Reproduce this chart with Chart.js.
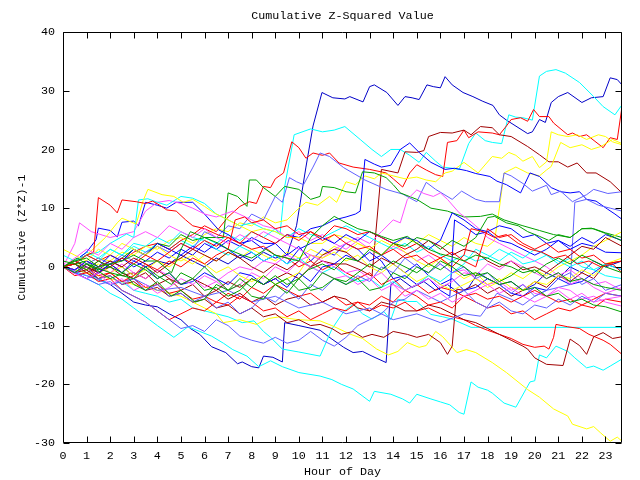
<!DOCTYPE html>
<html>
<head>
<meta charset="utf-8">
<script src="https://cdn.jsdelivr.net/npm/chart.js@4/dist/chart.umd.min.js"></script>
<style>
  html, body { margin: 0; padding: 0; background: #fff; }
  canvas { display: block; }
</style>
</head>
<body>
<canvas id="chart" width="640" height="480"></canvas>
<script>
// ===== traces: [hour, cumulative value] =====

const NAVY_TOP = [[0,0],[0.5,-1],[1,0.5],[1.5,-0.5],[2,1],[2.5,0],[3,-1.5],[3.5,0],[4,1],[4.5,0.5],[5,2],[5.5,1],[6,0],[6.5,1.5],[7,0.5],[7.5,2],[8,1],[8.5,2.5],[9,1.5],[9.5,2],[9.9,7],[10.3,17],[10.6,24],[10.98,29.7],[11.44,28.8],[11.95,28.6],[12.16,29],[12.72,28.1],[13,30.7],[13.2,31],[13.73,29.7],[14.2,27.5],[14.5,29],[14.8,28.8],[15.1,28.5],[15.43,31],[15.7,30.7],[16,30.5],[16.2,32.4],[16.5,31],[16.96,29.7],[17.38,29],[17.8,28.2],[18.23,27.5],[18.5,25.9],[18.8,25],[19.7,22.7],[19.9,23],[20.2,25.1],[20.45,24.6],[20.7,28],[21,29],[21.4,29.7],[22,28],[22.4,28.8],[22.9,29],[23.2,32.2],[23.5,31.9],[23.7,31]];

const CYAN_TOP = [[0,0],[0.5,1],[1,2.5],[1.5,1.5],[2,3],[2.5,2],[3,3.5],[3.5,2.5],[4,4],[4.5,3],[5,4.5],[5.5,3.5],[6,5],[6.5,4],[7,5.5],[7.5,4.5],[8,6],[8.5,5],[9,6.5],[9.2,5.5],[9.4,13.7],[9.8,22.5],[10.5,23.5],[11,23],[11.5,23.3],[11.95,23.9],[12.6,21.7],[13.1,20],[13.5,18.8],[13.9,20],[14.3,20],[14.7,19],[15.1,17.8],[15.4,19.5],[15.8,18],[16.1,17],[16.5,16.8],[16.8,16.6],[17.2,21],[17.5,22.8],[17.9,21.5],[18.2,21.2],[18.6,21],[18.9,25.9],[19.2,25.5],[19.5,25.4],[19.9,25],[20.2,32.5],[20.5,33.3],[20.9,33.6],[21.3,33],[21.9,31.4],[22.5,29],[22.9,27.3],[23.4,25.9],[23.7,27.6]];

const RED_JUMP = [[0,0],[0.5,0.5],[1,-0.5],[1.5,1],[2,2],[2.5,1],[3,2.5],[3.5,3.5],[4,4],[4.5,3],[5,4.5],[5.5,5.5],[6,7],[6.5,6],[7,8.5],[7.5,10.3],[7.9,11.1],[8.2,10.8],[8.5,13.7],[8.8,13.5],[9,15],[9.35,16],[9.7,21.3],[10,20.3],[10.3,18.5],[10.6,19.4],[11,19],[11.3,19.4],[11.7,17.7],[12.3,17],[13,16.6],[13.7,16],[14,15],[14.4,13.6],[14.7,16],[15,17.4],[15.4,16.5],[15.8,15.7],[16.1,15.4],[16.3,21.2],[16.7,21.5],[17,23.3],[17.2,22],[17.6,23],[18.2,22.8],[18.5,22.5],[18.8,24],[19,25.1],[19.4,25.4],[19.7,24.8],[19.95,26.8],[20.2,25.6],[20.6,25.6],[20.8,24.5],[21.4,22.5],[21.6,22.8],[21.9,22.2],[22.2,22.5],[22.9,20.3],[23.2,22],[23.5,21.7],[23.7,27.3]];

const MAROON_RISE = [[0,0],[0.5,-0.5],[1,0.5],[1.5,-1],[2,0],[2.5,-1.5],[3,-1],[3.5,-2],[4,-0.5],[4.5,-2],[5,-3],[5.5,-2],[6,-3],[6.5,-4],[7,-2.5],[7.5,-3.5],[8,-2],[8.5,-3],[9,-2],[9.5,-1],[10,-2],[10.5,0],[11,1],[11.5,0.5],[12,0.5],[12.6,-0.5],[13.1,-1.6],[13.5,16.6],[14.2,16],[14.5,19.6],[15,19.5],[15.3,19.8],[15.5,22.2],[16,22.9],[16.5,22.8],[17,23.3],[17.3,22.5],[17.7,23.9],[18.2,23.7],[18.5,22.5],[19,22.2],[19.7,20.5],[20.2,19.1],[20.6,17.9],[21,17.9],[21.4,17],[21.8,17.7],[22.2,16],[22.6,16],[23.2,14.5],[23.7,12.6]];

const YELLOW_LATE = [[0,0],[0.5,-0.5],[1,0.5],[1.5,1.5],[2,1],[2.5,2.5],[3,2],[3.5,3.5],[4,3],[4.5,4.5],[5,5],[5.5,4],[6,5.5],[6.5,6.5],[7,6],[7.5,7.5],[8,7],[8.5,8.5],[9,7.5],[9.5,8],[10,10],[10.3,11],[10.8,10.5],[11.3,12],[11.6,11],[12,14.5],[12.4,14],[12.8,15.5],[13.2,15],[13.5,16],[14,15.5],[14.5,15],[15,15.3],[15.4,14.8],[15.8,14.5],[16.2,16],[16.5,16.3],[17,17.8],[17.6,16],[18.2,18.8],[18.6,18.5],[18.9,19.5],[19.2,19],[19.5,18],[19.9,18.8],[20.2,16.9],[20.5,17.9],[20.7,23],[21,22.5],[21.4,22.2],[21.8,22.5],[22.2,21.7],[22.7,22.5],[23,22.2],[23.3,21.3],[23.7,20.8]];

const YELLOW_LATE2 = [[0,0],[0.5,1],[1,-0.5],[1.5,0.5],[2,-1],[2.5,0],[3,-1.5],[3.5,-0.5],[4,1],[4.5,0],[5,1.5],[5.5,0.5],[6,2],[6.5,1],[7,2.5],[7.5,1.5],[8,3],[8.5,2],[9,1],[9.5,2.5],[10,1.5],[10.5,3],[11,2],[11.5,3.5],[12,2.5],[12.5,4],[13,3],[13.5,4.5],[14,3.5],[14.5,5],[15,4],[15.5,5.5],[16,4.5],[16.5,3.5],[17,5],[17.5,4],[18,3.5],[18.3,4.5],[18.5,10],[18.7,16],[19.2,17],[19.7,16],[20.2,15.5],[20.5,16.5],[20.7,17.1],[21.1,21.2],[21.5,20.3],[22,20.8],[22.4,20],[22.8,20.5],[23.3,21.7],[23.7,21]];

const BLUE_MID = [[0,0],[0.5,1],[1,0],[1.5,-1],[2,0.5],[2.5,1.5],[3,0],[3.5,1],[4,2.5],[4.5,1.5],[5,3],[5.5,2],[6,4],[6.5,3],[7,4.5],[7.5,3.5],[8,5],[8.5,4],[9,4],[9.5,5.5],[10,5],[10.5,6.5],[11,7],[11.5,8],[12,8.5],[12.4,9],[12.6,9.5],[12.8,18.3],[13.2,17.5],[13.5,17],[13.9,17.3],[14.3,20],[14.7,21.1],[15.1,19.5],[15.6,17.8],[16.2,16.6],[16.6,16.8],[17.1,16.4],[17.5,15.9],[18.1,15.4],[18.4,14.6],[18.8,14],[19.4,12.6],[19.8,16],[20.2,15.4],[20.7,13.5],[21.1,12.8],[21.5,12.6],[21.9,12.8],[22.2,11.5],[22.6,11.2],[23.1,9.8],[23.4,9],[23.7,8.1]];

const SLATE_MID = [[0,0],[0.5,-0.5],[1,0.5],[1.5,1.5],[2,0.5],[2.5,2],[3,1],[3.5,2.5],[4,3.5],[4.5,2.5],[5,4],[5.5,3],[6,6],[6.5,5],[7,7],[7.5,6.5],[8,9],[8.5,8],[9,12],[9.3,11],[9.6,15.2],[9.9,14.5],[10.2,14],[10.6,17],[10.9,19.4],[11.3,18.8],[11.9,16.9],[12.8,14.8],[13.7,13.2],[14.4,12.4],[15,11.1],[15.4,14.4],[15.8,13.2],[16.5,11.5],[16.9,12.9],[17.5,11.5],[17.9,11.1],[18.5,11.1],[18.7,16],[19,15.5],[19.5,14.2],[19.9,12.9],[20.5,13.9],[20.7,12.3],[21.1,12.9],[21.6,11.1],[22.2,12.3],[22.5,13.2],[23.1,12.5],[23.7,12.8]];

const CYAN_FLAT = [[0,0],[0.5,-1],[1,-1.5],[1.5,-2],[2,-3],[2.5,-2.5],[3,-4],[3.5,-4.5],[4,-5],[4.5,-6],[5,-5.5],[5.5,-7],[6,-7.5],[6.5,-8],[7,-8.5],[7.6,-9.5],[8.1,-9.2],[8.5,-11],[8.8,-12],[9.3,-14],[10,-14.5],[10.9,-15.2],[11.4,-10.6],[11.9,-7.6],[12.3,-6.4],[12.7,-8],[13.1,-8.9],[13.6,-7.6],[13.9,-9],[14.2,-5.5],[14.6,-5.9],[15,-5.9],[15.6,-8.1],[16.1,-8.5],[16.5,-8.9],[17.3,-10.3],[23.7,-10.3]];

const CYAN_LOW = [[0,0],[0.5,-1],[1,-2],[1.5,-3],[2,-4.5],[2.5,-5.5],[3,-7],[3.5,-8.5],[4,-10],[4.7,-12],[5.3,-10.2],[5.8,-11],[6.3,-11.8],[6.8,-13],[7.2,-14.1],[7.8,-15.2],[8.3,-17],[8.8,-16],[9.3,-17],[10,-18],[10.9,-18.6],[11.4,-19.2],[11.8,-20],[12.3,-20.8],[13,-22.9],[13.2,-21.2],[13.9,-21.7],[14.4,-22.5],[14.7,-23.2],[15,-21.7],[15.6,-22.5],[16,-23],[16.4,-23.5],[16.8,-24.8],[17,-25.1],[17.3,-19.6],[17.6,-20.5],[18,-21],[18.2,-21.5],[18.7,-23.2],[19.2,-23.9],[19.8,-19.6],[20,-19.4],[20.2,-15],[20.5,-15.5],[20.9,-13.5],[21.4,-14.4],[21.7,-15.5],[22.2,-17.2],[22.5,-16.9],[22.9,-17.6],[23.2,-16.9],[23.7,-15.7]];

const YELLOW_LOW = [[0,0],[0.5,-0.5],[1,-1],[1.5,-1.5],[2,-2],[2.5,-2.5],[3,-3],[3.5,-3.5],[4,-4],[4.5,-4.5],[5,-5],[5.5,-6],[6,-7],[6.5,-8],[6.8,-9.5],[7.5,-9],[8.2,-9.8],[8.7,-8.8],[9.2,-8.5],[9.6,-8.8],[10,-9],[10.9,-9.2],[11.4,-10],[12.2,-11.5],[12.7,-12.2],[13.3,-14],[13.8,-15],[14.2,-14.4],[14.6,-12.9],[15.1,-13.7],[15.4,-13.4],[15.8,-11],[16.1,-11.9],[16.7,-14.6],[17.1,-14.1],[17.5,-14.6],[18.2,-16.3],[18.8,-18],[19.7,-20.9],[20.2,-22.2],[20.8,-24.2],[21.4,-25.4],[21.6,-26.8],[22.2,-27.6],[22.5,-27.2],[22.8,-28.3],[23.2,-29.7],[23.5,-29],[23.7,-29.7]];

const NAVY_LOW = [[0,0],[0.5,-0.5],[1,-1],[1.5,-2],[2,-3],[2.5,-4.5],[3,-6],[3.5,-6.5],[4,-6.8],[4.5,-8],[5,-9],[5.4,-10.5],[5.8,-11.5],[6.3,-13.6],[6.9,-14.6],[7.4,-16.5],[7.6,-16.2],[8,-17],[8.3,-17.2],[8.5,-15.2],[8.9,-15.4],[9.3,-16.2],[9.4,-9.5],[10,-10],[10.9,-10.8],[11.4,-12.3],[11.9,-13.7],[12.3,-14.6],[12.7,-14.4],[13.1,-15.2],[13.7,-16.3],[13.9,-3],[14.3,-2],[14.8,-3.5],[15.3,-2.5],[15.8,-4],[16.3,-3],[16.8,-4.5],[17.2,-3.5],[17.6,-1],[18,-2],[18.5,-3],[19,-2.5],[19.5,-4],[20,-3],[20.5,-1],[21,-2],[21.5,0],[22,-1],[22.5,1],[23,0],[23.7,1]];

const RED_LOW = [[0,0],[0.5,-1],[1,0],[1.5,-1.5],[2,-1],[2.5,-2.5],[3,-2],[3.5,-3.5],[4,-3],[4.5,-4.5],[5,-4],[5.5,-5.5],[6,-5],[6.5,-6],[7,-4.5],[7.5,-5.5],[8,-3.5],[8.5,-4.5],[9,-3],[9.5,-4],[10,-5],[10.5,-4.5],[11,-6],[11.5,-5],[12,-6.5],[12.5,-6],[13,-7.5],[13.5,-6.5],[14,-7],[14.5,-6],[15,-7.5],[15.5,-7],[16,-8],[16.5,-8.5],[17,-9],[17.5,-10],[18,-10.8],[18.5,-11.5],[19,-12.2],[19.5,-13.2],[20,-13.7],[20.4,-13.5],[20.6,-14],[20.8,-12],[20.9,-9.8],[21.4,-10.2],[21.9,-10.5],[22.3,-11.5],[22.9,-12.5],[23.2,-13.2],[23.7,-14.9]];

const MAROON_LOW = [[0,0],[0.5,1],[1,0],[1.5,-1],[2,0.5],[2.5,-1],[3,-2],[3.5,-1],[4,-3],[4.5,-2],[5,-4],[5.5,-3],[6,-5],[6.5,-4],[7,-5.5],[7.5,-4.5],[8,-6],[8.5,-5],[9,-6.5],[9.5,-5.5],[10,-5],[10.5,-6.5],[11,-6],[11.5,-5],[12,-5.5],[12.5,-7],[13,-7.5],[13.5,-6],[14,-6.5],[14.5,-7.5],[15,-7.5],[15.5,-6.5],[16,-7],[16.5,-8],[17,-9],[17.5,-9.5],[18,-10.5],[18.5,-11.5],[19,-12.5],[19.5,-13.5],[19.7,-14],[20,-15.5],[20.5,-16.6],[21.2,-16.8],[21.5,-12.3],[21.9,-13.4],[22.2,-14.9],[22.5,-11.9],[22.9,-11.2],[23.3,-12.2],[23.7,-11.9]];

const MAROON_DIP = [[0,0],[0.5,-1],[1,-0.5],[1.5,-2],[2,-1.5],[2.5,-3],[3,-2.5],[3.5,-4],[4,-3.5],[4.5,-5],[5,-4.5],[5.5,-6],[6,-5.5],[6.5,-7],[7,-6.5],[7.5,-8],[8,-7],[8.5,-8.5],[9,-8],[9.5,-9.5],[10,-9],[10.5,-10],[10.9,-9.8],[11.4,-10.5],[11.8,-11.5],[12.3,-11],[12.7,-12],[13.1,-11.5],[13.6,-12],[14,-11],[14.6,-11.5],[15,-12],[15.5,-11.5],[16,-12.9],[16.3,-14.9],[16.5,-13.5],[16.7,-3.8],[17,-4],[17.5,-3],[18,-4.5],[18.5,-3.5],[19,-5],[19.5,-4],[20,-2.5],[20.5,-3.5],[21,-1.5],[21.5,-2.5],[22,-1],[22.5,-2],[23,0.5],[23.7,1]];

const RED_EARLY = [[0,0],[0.5,1],[1,2],[1.3,2.5],[1.5,11.8],[2,10.5],[2.3,9.2],[2.5,11.4],[3.1,11.1],[3.5,10.8],[3.8,11.2],[4.1,10.5],[4.4,9.7],[4.8,9.5],[5.2,8],[5.5,7],[6,6.5],[6.6,5.4],[7,5],[7.5,4],[8,3],[8.5,3.5],[9,2],[9.5,1.5],[10,0],[10.5,1],[11,-0.5],[11.5,0.5],[12,-1],[12.5,-2],[13,-1],[13.5,-3],[14,-2],[14.5,-4],[15,-3],[15.5,-4.5],[16,-3.5],[16.5,-4],[17,-5],[17.5,-4.5],[18,-5.5],[18.5,-5],[19,-6],[19.5,-5],[20,-4],[20.5,-5],[21,-6],[21.5,-5.5],[22,-6.5],[22.5,-5.5],[23,-4.5],[23.7,-5]];

const YELLOW_EARLY = [[0,0],[0.5,1],[1,2],[1.8,5],[2.3,7.5],[2.5,8.3],[3.1,7.3],[3.4,11.3],[3.6,13.2],[4.2,12.3],[4.7,12],[5.1,11],[5.5,11.5],[6,10.3],[6.4,9.2],[7,8],[7.5,7],[8,6],[8.5,6.5],[9,6],[9.5,5],[10,5],[10.5,4],[11,4],[11.5,5.5],[12,5],[12.5,4],[13,3],[13.5,2],[14,4],[14.5,2.5],[15,1],[15.5,0],[16,1.5],[16.5,-0.5],[17,-2],[17.5,-1],[18,-3],[18.5,-2],[19,-3.5],[19.5,-4],[20,-2.5],[20.5,-3],[21,-1.5],[21.5,-2],[22,-0.5],[22.5,-1.5],[23,0.5],[23.7,1.5]];

const CYAN_EARLY = [[0,0],[0.5,1],[1,2],[1.5,2.5],[2,4],[2.7,5.6],[3,5],[3.2,11.4],[3.6,11.6],[4,11],[4.4,10.5],[5,12],[5.5,11.7],[6,10.8],[6.5,9],[7,8],[7.5,7],[8,7.5],[8.5,6.5],[9,6],[9.5,5],[10,6.5],[10.5,5.5],[11,5],[11.5,6],[12,7],[12.5,6],[13,5],[13.5,4],[14,3],[14.5,4],[15,2.5],[15.5,3.5],[16,2],[16.5,1],[17,2],[17.5,1],[18,1.5],[18.5,3],[19,2],[19.5,0.5],[20,1],[20.5,2],[21,0.5],[21.5,1.5],[22,0],[22.5,-0.5],[23,-1.5],[23.7,-2]];

const MAGENTA_EARLY = [[0,0],[0.5,4],[0.7,7.5],[1.2,6],[2,5],[3,6],[3.5,9.5],[4,11],[4.5,11.3],[5,10.8],[5.5,10],[6,9],[6.5,8.5],[7.2,9.5],[8,8],[8.5,7],[9,6.5],[9.5,5],[10,6],[10.5,4.5],[11,5.5],[11.5,4],[12,3],[12.5,4.5],[13,3],[13.5,2],[14,3.5],[14.5,2.5],[15,1],[15.5,2],[16,0.5],[16.5,-1],[17,-0.5],[17.5,-2],[18,-3],[18.5,-2.5],[19,-4],[19.5,-3],[20,-4.5],[20.5,-5],[21,-3.5],[21.5,-4],[22,-5.5],[22.5,-5],[23,-6],[23.7,-6.7]];

const MAGENTA_PEAK = [[0,0],[0.5,-0.5],[1,1],[1.5,0],[2,-1],[2.5,0.5],[3,-1],[3.5,-2],[4,-0.5],[4.5,-1.5],[5,-3],[5.5,-2],[6,-3.5],[6.5,-2.5],[7,-4],[7.5,-3],[8,-1],[8.5,-2],[9,0],[9.5,-1],[10,1],[10.5,2],[11,1.5],[11.5,3],[12,4],[12.5,5],[13,4],[13.5,6],[14,8],[14.3,7.5],[14.6,11.5],[15,13.1],[15.3,12.5],[15.7,12],[16,12.6],[16.3,11.5],[16.8,9.2],[17.2,8],[17.7,6.3],[18,5],[18.5,4],[19,3],[19.5,2],[20,1],[20.5,0],[21,-1.5],[21.5,-0.5],[22,-2],[22.5,-3],[23,-2.5],[23.7,-4]];

const BLUE_EARLY = [[0,0],[0.5,1],[1,2.5],[1.4,4.6],[1.5,6.6],[2,6.2],[2.3,5.1],[2.5,7.6],[3,7.8],[3.2,7],[3.5,11],[4,10.5],[4.4,10],[4.8,11],[5.5,11],[6,9],[6.6,6.3],[7,5.5],[7.5,4],[8,4.5],[8.5,3],[9,4],[9.5,2],[10,3.5],[10.5,1],[11,3],[11.5,2],[12,4],[12.5,3],[13,1],[13.5,2],[14,0.5],[14.5,-1],[15,0.5],[15.5,-1.5],[16,-3],[16.5,-2],[17,-4],[17.5,-3.5],[18,-2],[18.5,-3],[19,-4.5],[19.5,-5],[20,-3.5],[20.5,-4],[21,-2],[21.5,-3],[22,-2.5],[22.5,-1],[23,0.5],[23.7,-0.5]];

const GREEN_HIGH = [[0,0],[0.5,0.5],[1,1],[1.5,-0.5],[2,0],[2.5,1.5],[3,3],[3.5,2],[4,4],[4.5,3.5],[5,5.5],[5.5,4.5],[6,5],[6.8,5],[7,12.6],[7.4,12],[7.8,10.3],[7.9,14.8],[8.2,14.8],[8.5,13.5],[9,12],[9.4,13.7],[10,13.2],[10.5,11.5],[10.9,12],[11,13.7],[11.5,13.5],[12,12.8],[12.4,12.6],[12.7,16.2],[13.2,16],[13.7,15.2],[14,14],[14.3,12.6],[15,11.5],[15.6,10],[16.3,9.5],[17,8.5],[17.7,8.6],[18.2,9],[18.7,8],[19.5,7],[20.2,6.2],[20.8,5.5],[21.5,5],[22,6.5],[22.5,6.5],[23,5.8],[23.7,5]];

const GREEN_2 = [[0,0],[0.5,1],[1,1.5],[1.5,0],[2,0.5],[2.5,1],[3,2],[3.5,1],[4,1],[4.6,-1],[5,3],[5.4,6],[6,5],[6.6,4],[7,3],[7.6,2],[8,1.5],[8.6,3],[9,2],[10,1],[10.5,5],[11,7],[11.5,8.6],[12,7.5],[12.5,6.5],[13,6],[13.5,5.2],[14,4.5],[14.6,5.2],[15,4],[15.5,3],[16,2.2],[16.5,1.7],[17,1],[17.5,2],[18,1.5],[18.5,0.5],[19,0],[19.5,-1],[20,-0.5],[20.5,-2],[21,-1],[21.5,-2.5],[22,-2],[22.5,-3],[23,-3.5],[23.7,-4]];

const GREEN_3 = [[0,0],[0.5,-1],[1,0.5],[2,-1],[3,-2],[3.5,0],[4,-1.5],[4.6,-3],[5,-1],[5.5,-2],[6,0],[6.5,-2],[7,-4],[7.5,-3],[8,-5],[8.5,-5.5],[9,-3],[9.5,-4.5],[10,-2],[10.4,-0.5],[11,0.5],[11.5,-0.5],[12,1.5],[12.5,1],[13,3],[13.5,2],[14,4],[14.5,3.5],[15,5],[15.5,4.5],[16,3],[16.5,4.5],[17,3.5],[17.5,5],[18,8.4],[18.3,8.6],[18.8,7.5],[19.3,7],[19.7,6],[20.2,5.2],[20.6,4.5],[21,5.5],[21.5,5],[22,6.5],[22.4,6.6],[23,5.7],[23.4,5],[23.7,4.4]];

const GREEN_4 = [[0,0],[0.6,1.5],[1.2,0],[2,-2],[2.6,-1],[3,-3],[3.5,-4],[4,-2.5],[4.6,-5],[5,-4],[5.6,-6],[6,-5.5],[6.5,-3],[7,-4],[7.5,-2],[8,-3.5],[8.5,-1.5],[9,-3],[9.5,-2],[10,-4],[10.5,-3.5],[11,-1],[11.5,-2],[12,-3],[12.5,-2],[13,-4],[13.5,-3.5],[14,-1],[14.5,-2],[15,0],[15.5,-1],[16,1],[16.5,0],[17,-1.5],[17.5,-1],[18,-2],[18.5,-3],[19,-2.5],[19.5,-4],[20,-3.5],[20.5,-5],[21,-4.5],[21.5,-6],[22,-5.5],[22.5,-6.5],[23,-6.8],[23.7,-7.7]];

const GREEN_5 = [[0,1],[0.5,0.5],[1,-0.5],[1.5,1],[2,0],[2.5,-1],[3,0.5],[3.5,-0.5],[4,-2],[4.5,-1],[5,-3],[5.5,-2],[6,-4],[6.5,-3.5],[7,-5],[7.5,-4],[8,-2],[8.5,-3],[9,-1.5],[9.5,-3],[10,-2],[10.5,-4],[11,-3.5],[11.5,-2],[12,-2.5],[12.5,-1],[13,0.5],[13.5,-0.5],[14,1],[14.5,0],[15,-1],[15.5,0.5],[16,-0.5],[16.5,1],[17,0],[17.5,-1.5],[18,-1],[18.5,-2.5],[19,-1.5],[19.5,0],[20,-1],[20.5,0.5],[21,1.5],[21.5,0.5],[22,2],[22.5,1],[23,0],[23.7,-1]];

const BLUE_3 = [[0,0],[0.5,-1],[1,-2],[1.5,-1],[2,0.5],[2.5,-1],[3,1],[3.5,0],[4,-2],[4.5,-1],[5,-3],[5.5,-2.5],[6,-1],[6.5,-2],[7,-3],[7.5,-1],[8,-1.5],[8.5,-3],[9,-2],[9.5,-3.5],[10,-1],[10.5,-2.5],[11,0],[11.5,0.5],[12,2],[12.5,1],[13,2.5],[13.5,1],[14,-2],[14.5,-1.5],[15,-3],[15.5,-2],[16,-4],[16.4,-5],[16.6,8],[17,7],[17.5,5.5],[18,6],[18.5,4.5],[19,4],[19.5,3],[20,2],[20.5,3],[21,4.5],[21.5,3.5],[22,5],[22.5,4],[23,5.5],[23.7,4.5]];

const BLUE_5 = [[0,0],[0.5,-0.5],[1,1],[1.5,0],[2,2],[2.5,1],[3,3],[3.5,2],[4,4],[4.5,3],[5,2],[5.5,3.5],[6,2.5],[6.5,4],[7,3],[7.5,1.5],[8,2.5],[8.5,1],[9,2],[9.5,0.5],[10,3],[10.5,4],[11,5],[11.5,4],[12,5.5],[12.5,4.5],[13,6],[13.5,5],[14,4],[14.5,5],[15,4.5],[15.5,3],[16,4.5],[16.5,9.2],[17,8],[17.5,6.5],[18,6],[18.5,7],[19,6.5],[19.5,5],[20,5.5],[20.5,4],[21,4.5],[21.5,3],[22,4],[22.5,3.5],[23,2.5],[23.7,2.4]];

const SLATE_2 = [[0,0],[0.5,-1],[1,0],[1.5,-2],[2,-1.5],[2.5,-3],[3,-2],[3.5,-4],[4,-3],[4.5,-5],[5,-4.5],[5.5,-6],[6,-5],[6.5,-7],[7,-6],[7.5,-8],[8,-7],[8.5,-5],[9,-6],[9.5,-4],[10,-5.5],[10.5,-3],[11,-4],[11.5,-2],[12,-3],[12.5,-1.5],[13,-2.5],[13.5,0],[14,-1],[14.5,1.5],[15,0],[15.5,-1],[16,0.5],[16.5,-1],[17,0],[17.5,-2],[18,-1],[18.5,-3],[19,-4.5],[19.5,-3],[20,-5],[20.5,-4],[21,-2],[21.5,-1],[22,-3],[22.5,-2],[23,-4],[23.7,-3]];

const SLATE_JUMP = [[0,0],[1,-1.5],[2,-3],[3,-2],[4,-4],[5,-3.5],[6,-5],[7,-4],[8,-6],[9,-5],[10,-7],[11,-6],[12,-8],[13,-7],[14,-9],[15,-8],[16,-9.5],[17,-8],[17.7,-8.4],[18.4,-4.5],[19,-5.5],[19.5,-6.5],[20,-5],[20.5,-4],[21,-3.5],[21.5,-3],[21.7,11],[22.2,11.5],[22.7,10.5],[23.2,10],[23.7,9.5]];

const SLATE_LOW = [[0,0],[0.5,-1],[1,-2],[1.5,-3],[2,-2.5],[2.5,-4],[3,-5],[3.5,-6],[4,-7.5],[4.5,-9],[5,-10.5],[5.5,-10],[6,-11],[6.5,-9],[7,-10],[7.5,-11.8],[8,-12.5],[8.5,-13],[9,-12],[9.5,-13],[10,-12.5],[10.5,-11],[11,-12.5],[11.5,-13.5],[12,-12],[12.5,-10],[13,-9],[13.5,-8],[14,-6],[14.5,-5.5],[15,-4],[15.5,-5],[16,-6],[16.5,-5],[17,-4],[17.5,-6],[18,-7],[18.5,-6],[19,-7.5],[19.5,-8],[20,-6.5],[20.5,-7],[21,-5.5],[21.5,-6.5],[22,-5],[22.5,-6],[23,-4.5],[23.7,-5]];

const MAGENTA_3 = [[0,0],[0.5,1.5],[1,3],[1.5,2],[2,4],[2.5,3],[3,5],[3.5,6],[4,5],[4.5,7],[5,6],[5.5,5],[6,6.5],[6.5,5],[7,4],[7.5,5.5],[8,4.5],[8.5,6],[9,5],[9.5,4],[10,3],[10.5,2],[11,1],[11.5,0],[12,-1],[12.5,-0.5],[13,-2],[13.5,-1],[14,-3],[14.5,-4],[15,-3],[15.5,-2],[16,-3.5],[16.5,-2.5],[17,-1],[17.5,-1.5],[18,0.5],[18.5,-0.5],[19,1],[19.5,0],[20,-1],[20.5,-2],[21,-1],[21.5,-3],[22,-2],[22.5,-3.5],[23,-4.5],[23.7,-3.5]];

const MAGENTA_4 = [[0,0],[0.4,-1],[1,-2],[1.5,-1],[2,-3],[2.5,-2],[3,-4],[3.5,-3],[4,-4.5],[4.5,-3.5],[5,-2],[5.5,-3],[6,-1.5],[6.5,-2.5],[7,-1],[7.5,0],[8,-0.5],[8.5,1],[9,0.5],[9.5,2],[10,1],[10.5,0],[11,-1],[11.5,-2],[12,-1.5],[12.5,-3],[13,-2],[13.5,-4],[14,-3],[14.5,-5],[15,-4],[15.5,-5.5],[16,-4.5],[16.5,-6],[17,-5],[17.5,-4],[18,-3],[18.5,-4.5],[19,-3.5],[19.5,-5],[20,-6],[20.5,-5],[21,-4],[21.5,-5.5],[22,-4.5],[22.5,-6],[23,-5.5],[23.7,-5]];

const RED_2 = [[0,0],[0.5,-1],[1,0],[1.5,-2],[2,-1],[2.5,-2.5],[3,-1.5],[3.5,0.5],[4,-0.5],[4.5,1],[5,0],[5.5,1.5],[6,0.5],[6.5,2],[7,3],[7.3,8],[7.7,8.5],[8,7.5],[8.5,8],[9,6.5],[9.5,7],[10,5.5],[10.5,6],[11,4.5],[11.5,5.5],[12,4],[12.5,3],[13,3.5],[13.5,2],[14,3],[14.5,1.5],[15,2],[15.5,0.5],[16,1.5],[16.5,0],[17,2],[17.3,6.5],[17.8,6],[18.3,5],[18.8,5.5],[19.3,4],[19.8,3],[20.3,2.5],[20.8,1.5],[21.3,2],[21.8,0.5],[22.3,1],[22.8,0],[23.3,0.5],[23.7,-1]];

const RED_3 = [[0,0],[0.5,-1.5],[1,-1],[1.5,-2.5],[2,-2],[2.5,-4],[3,-5],[3.5,-6],[4,-7.5],[4.5,-9],[5,-8],[5.5,-7],[6,-7.5],[6.5,-6],[7,-6.5],[7.5,-5],[8,-6],[8.5,-7.5],[9,-7],[9.5,-8.5],[10,-7.5],[10.5,-9],[11,-8],[11.5,-7],[12,-7.5],[12.5,-6],[13,-6.5],[13.5,-5],[14,-6],[14.5,-4],[15,-5],[15.5,-6.5],[16,-6],[16.5,-7],[17,-5],[17.5,-6],[18,-7],[18.5,-6.5],[19,-8],[19.5,-7.5],[20,-9],[20.5,-8],[21,-7],[21.5,-7.5],[22,-6.5],[22.5,-7],[23,-5.5],[23.7,-6]];

const RED_4 = [[0,0],[0.5,0.5],[1,2],[1.5,1],[2,0],[2.5,1.5],[3,0.5],[3.5,2],[4,1],[4.5,2.5],[5,4],[5.5,3],[6,4.5],[6.5,3.5],[7,5],[7.5,4],[8,6],[8.5,5],[9,4],[9.5,5.5],[10,4.5],[10.5,6],[11,5],[11.5,7],[12,6.5],[12.5,5.5],[13,6],[13.5,5],[14,4],[14.5,3],[15,4],[15.5,2.5],[16,1.5],[16.5,2.5],[17,1],[17.5,0],[18,6.5],[18.5,5],[19,5.5],[19.5,4],[20,3],[20.5,4],[21,2.5],[21.5,3],[22,1.5],[22.5,2],[23,0.5],[23.7,1]];

const MAROON_3 = [[0,0],[0.5,0.5],[1,-1],[1.5,0],[2,1],[2.5,0],[3,1.5],[3.5,0.5],[4,-1],[4.5,0.5],[5,1.5],[5.5,3],[6,2],[6.5,1],[7,2.5],[7.5,1.5],[8,0],[8.5,-1],[9,0.5],[9.5,-0.5],[10,1],[10.5,0],[11,2],[11.5,3],[12,2.5],[12.5,1],[13,0],[13.5,1.5],[14,0.5],[14.5,2],[15,3],[15.5,4.5],[16,3.5],[16.5,2],[17,3],[17.5,2.5],[18,1],[18.5,0],[19,1],[19.5,-0.5],[20,0],[20.5,-1],[21,0.5],[21.5,2],[22,3.5],[22.5,3],[23,5],[23.7,3.5]];

const CYAN_3 = [[0,2],[0.5,1],[1,2],[1.5,1],[2,3],[2.5,2],[3,4],[3.5,3.5],[4,5],[4.5,4],[5,6],[5.5,5],[6,4.5],[6.5,3],[7,2],[7.5,3.5],[8,2.5],[8.5,1],[9,2],[9.5,0.5],[10,1.5],[10.5,0],[11,-1],[11.5,0],[12,-1.5],[12.5,-2.5],[13,-2],[13.5,-3.5],[14,-2.5],[14.5,-4],[15,-3],[15.5,-1.5],[16,-2.5],[16.5,-1],[17,0.5],[17.5,3],[18,2],[18.5,1],[19,2.5],[19.5,1.5],[20,3],[20.5,2],[21,1],[21.5,0],[22,1],[22.5,-0.5],[23,0.5],[23.7,-0.5]];

const YELLOW_2 = [[0,3],[0.5,2],[1,1],[1.5,3],[2,2],[2.5,4],[3,3],[3.5,2],[4,3.5],[4.5,2],[5,1],[5.5,2],[6,0.5],[6.5,-1],[7,0],[7.5,-1.5],[8,-2.5],[8.5,-1.5],[9,-3],[9.5,-2],[10,-1],[10.5,2],[11,1.5],[11.5,2.5],[12,1],[12.5,2],[13,0],[13.5,-1],[14,0.5],[14.5,-1],[15,-2.5],[15.5,-1.5],[16,-3],[16.5,-4],[17,-3],[17.5,-2],[18,-3.5],[18.5,-2.5],[19,-1],[19.5,-2],[20,-0.5],[20.5,-1.5],[21,0],[21.5,1],[22,2],[22.5,3.5],[23,4.5],[23.7,6]];

// trace list with gnuplot-ish line colours
const TRACES = [
  [GREEN_2, '#00a000'], [GREEN_3, '#00a000'], [GREEN_4, '#00a000'], [GREEN_5, '#00a000'],
  [MAGENTA_3, '#ff50ff'], [MAGENTA_4, '#ff50ff'], [SLATE_2, '#6060ff'], [SLATE_LOW, '#6060ff'],
  [RED_2, '#ff0000'], [RED_3, '#ff0000'], [RED_4, '#ff0000'], [MAROON_3, '#a00000'],
  [CYAN_3, '#00ffff'], [YELLOW_2, '#ffff00'], [BLUE_3, '#0000ff'], [BLUE_5, '#0000ff'],
  [RED_EARLY, '#ff0000'], [YELLOW_EARLY, '#ffff00'], [CYAN_EARLY, '#00ffff'],
  [MAGENTA_EARLY, '#ff50ff'], [MAGENTA_PEAK, '#ff50ff'], [BLUE_EARLY, '#0000ff'],
  [GREEN_HIGH, '#00a000'], [SLATE_JUMP, '#6060ff'], [MAROON_DIP, '#a00000'],
  [MAROON_LOW, '#a00000'], [RED_LOW, '#ff0000'], [YELLOW_LOW, '#ffff00'],
  [CYAN_FLAT, '#00ffff'], [CYAN_LOW, '#00ffff'], [NAVY_LOW, '#0000c8'],
  [SLATE_MID, '#6060ff'], [BLUE_MID, '#0000ff'], [YELLOW_LATE2, '#ffff00'],
  [YELLOW_LATE, '#ffff00'], [MAROON_RISE, '#a00000'], [RED_JUMP, '#ff0000'],
  [CYAN_TOP, '#00ffff'], [NAVY_TOP, '#0000c8']
];

const FONT = { family: "'Liberation Mono', 'DejaVu Sans Mono', monospace", size: 11.7 };

// gnuplot style frame: full border plus inward ticks on all four sides
const frame = {
  id: 'frame',
  afterDatasetsDraw(chart) {
    const { ctx, chartArea: a, scales: { x, y } } = chart;
    const L = Math.round(a.left) + 0.5, R = Math.round(a.right) - 0.5;
    const T = Math.round(a.top) + 0.5, B = Math.round(a.bottom) - 0.5;
    ctx.save();
    ctx.strokeStyle = '#000';
    ctx.lineWidth = 1;
    ctx.beginPath();
    ctx.rect(L, T, R - L, B - T);
    x.ticks.forEach(t => {
      const px = Math.round(x.getPixelForValue(t.value)) + 0.5;
      ctx.moveTo(px, B); ctx.lineTo(px, B - 6);
      ctx.moveTo(px, T); ctx.lineTo(px, T + 6);
    });
    y.ticks.forEach(t => {
      const py = Math.round(y.getPixelForValue(t.value)) + 0.5;
      ctx.moveTo(L, py); ctx.lineTo(L + 6, py);
      ctx.moveTo(R, py); ctx.lineTo(R - 6, py);
    });
    ctx.stroke();
    ctx.restore();
  }
};

new Chart(document.getElementById('chart'), {
  type: 'line',
  data: {
    datasets: TRACES.map(([pts, color]) => ({
      data: pts.map(([h, v]) => ({ x: h, y: v })),
      borderColor: color,
      borderWidth: 1,
      pointRadius: 0,
      tension: 0,
      fill: false
    }))
  },
  options: {
    responsive: false,
    animation: false,
    devicePixelRatio: 1,
    layout: { padding: { right: 18 } },
    plugins: {
      legend: { display: false },
      tooltip: { enabled: false },
      title: {
        display: true, text: 'Cumulative Z-Squared Value', color: '#000',
        fullSize: false, font: { ...FONT, weight: 'normal', lineHeight: 1.2 },
        padding: { top: 9, bottom: 9 }
      }
    },
    scales: {
      x: {
        type: 'linear', min: 0, max: 23.7,
        border: { display: false }, grid: { display: false, drawTicks: false },
        ticks: { stepSize: 1, includeBounds: false, autoSkip: false, maxRotation: 0, color: '#000', font: FONT, padding: 6 },
        title: { display: true, text: 'Hour of Day', color: '#000', font: FONT, padding: { top: 0, bottom: 1 } },
        afterFit(s) { s.height = 37; }
      },
      y: {
        min: -30, max: 40,
        border: { display: false }, grid: { display: false, drawTicks: false },
        ticks: { stepSize: 10, color: '#000', font: FONT, padding: 8 },
        title: { display: true, text: 'Cumulative (Z*Z)-1', color: '#000', font: FONT, padding: { top: 15, bottom: 0 } },
        afterFit(s) { s.width = 63; }
      }
    }
  },
  plugins: [frame]
});
</script>
</body>
</html>
